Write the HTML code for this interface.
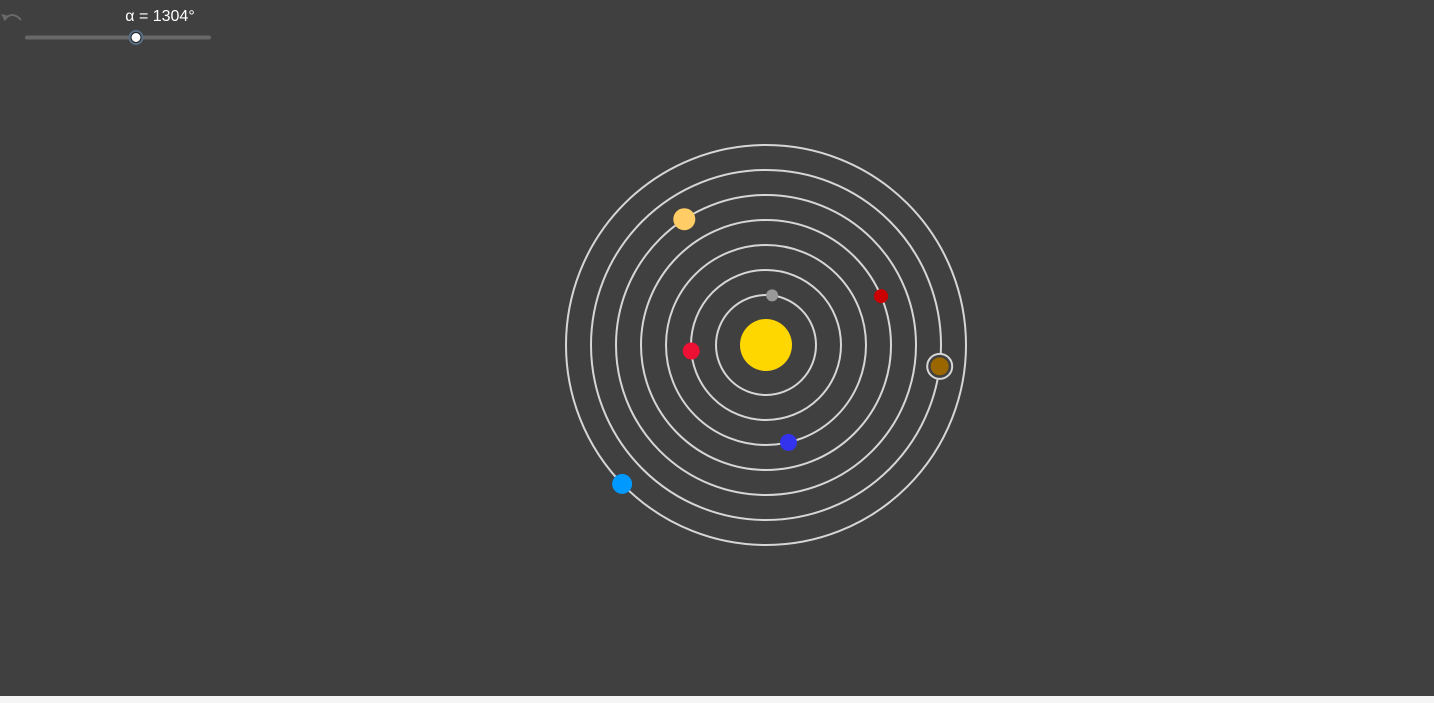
<!DOCTYPE html>
<html><head><meta charset="utf-8"><style>
html,body{margin:0;padding:0;width:1434px;height:703px;overflow:hidden;background:#f5f5f5;font-family:"Liberation Sans",sans-serif}
#stage{position:absolute;left:0;top:0;width:1434px;height:696px;background:#404040}
</style></head><body>
<div id="stage">
<svg width="1434" height="696">
<g><path d="M4 20 Q12 10 21 20" fill="none" stroke="#6a6a6a" stroke-width="2"/><path d="M1 14 L5 21 L9 16 Z" fill="#6a6a6a"/></g>
<text x="160" y="21" fill="#ffffff" font-size="16" text-anchor="middle">α = 1304°</text>
<line x1="27" y1="37.5" x2="209" y2="37.5" stroke="#686868" stroke-width="4" stroke-linecap="round"/>
<circle cx="136" cy="37.5" r="7.5" fill="#5a6f86"/>
<circle cx="136" cy="37.5" r="5" fill="#ffffff" stroke="#222" stroke-width="1"/>
<g id="sys"></g>
</svg>
</div>
<script>
const orbitRadii=[50,75,100,125,150,175,200];
const planetNames=['mercury','venus','earth','mars','jupiter','saturn','uranus'];
const planetAngles=[83,184.6,283,23,123,353,224];
const planetOrbit=[0,1,2,3,4,5,6];
const planetSizes=[6,8.5,8.5,7,11,9,10];
const planetColors=['#999999','#ee1133','#3333ee','#cc0000','#ffcc66','#9a6600','#0099ff'];
const cx=766,cy=345;
const g=document.getElementById('sys');
const NS='http://www.w3.org/2000/svg';
function px(r,a){return cx+r*Math.cos(a*Math.PI/180);}
function py(r,a){return cy-r*Math.sin(a*Math.PI/180);}
orbitRadii.forEach((r,i)=>{
 const c=document.createElementNS(NS,'circle');
 c.setAttribute('cx',cx);c.setAttribute('cy',cy);c.setAttribute('r',r);
 c.setAttribute('fill','none');c.setAttribute('stroke','#d6d6d6');c.setAttribute('stroke-width','2');
 
 
 g.appendChild(c);
});
const sun=document.createElementNS(NS,'circle');
sun.setAttribute('cx',cx);sun.setAttribute('cy',cy);sun.setAttribute('r',26);sun.setAttribute('fill','#ffd700');


g.appendChild(sun);
planetAngles.forEach((a,i)=>{
 const r=orbitRadii[planetOrbit[i]];
 const x=px(r,a),y=py(r,a);
 if(planetNames[i]==='saturn'){
  const ring=document.createElementNS(NS,'circle');
  ring.setAttribute('cx',x);ring.setAttribute('cy',y);ring.setAttribute('r',12.5);
  ring.setAttribute('fill','#404040');ring.setAttribute('stroke','#d6d6d6');ring.setAttribute('stroke-width','2');
  
  
  g.appendChild(ring);
 }
 const c=document.createElementNS(NS,'circle');
 c.setAttribute('cx',x);c.setAttribute('cy',y);c.setAttribute('r',planetSizes[i]);c.setAttribute('fill',planetColors[i]);
 
 
 g.appendChild(c);
});
</script>
</body></html>
